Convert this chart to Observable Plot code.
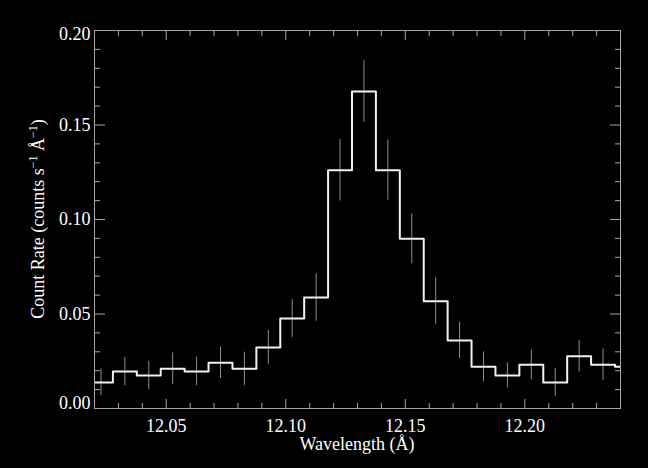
<!DOCTYPE html>
<html><head><meta charset="utf-8">
<script src="https://cdn.jsdelivr.net/npm/d3@7"></script>
<script src="https://cdn.jsdelivr.net/npm/@observablehq/plot@0.6"></script>
<style>
html,body{margin:0;padding:0;background:#000;}
</style></head><body><div id="chart"></div>
<script>
// Bin centres (Å), count rate and 1-sigma errors
const wavelength = [12.0227, 12.0327, 12.0427, 12.0527, 12.0627, 12.0727, 12.0827, 12.0927, 12.1027, 12.1127, 12.1227, 12.1327, 12.1427, 12.1527, 12.1627, 12.1727, 12.1827, 12.1927, 12.2027, 12.2127, 12.2227, 12.2327, 12.2427];
const rate = [0.0138, 0.0196, 0.0175, 0.0210, 0.0196, 0.0242, 0.0210, 0.0323, 0.0476, 0.0587, 0.1261, 0.1677, 0.1261, 0.0898, 0.0568, 0.0360, 0.0221, 0.0175, 0.0231, 0.0138, 0.0277, 0.0231, 0.0221];
const rateError = [0.0071, 0.0075, 0.0075, 0.0084, 0.0075, 0.0084, 0.0088, 0.0090, 0.0100, 0.0126, 0.0163, 0.0163, 0.0159, 0.0132, 0.0123, 0.0097, 0.0079, 0.0066, 0.0079, 0.0075, 0.0084, 0.0084, 0.0080];
const binWidth = 0.01;

const xMajorTicks = [12.05, 12.10, 12.15, 12.20];
const xMinorTicks = [12.03, 12.04, 12.06, 12.07, 12.08, 12.09, 12.11, 12.12, 12.13, 12.14, 12.16, 12.17, 12.18, 12.19, 12.21, 12.22, 12.23];
const yMajorTicks = [0.00, 0.05, 0.10, 0.15, 0.20];
const yMinorTicks = [0.01, 0.02, 0.03, 0.04, 0.06, 0.07, 0.08, 0.09, 0.11, 0.12, 0.13, 0.14, 0.16, 0.17, 0.18, 0.19];
const yMidLabels = [0.05, 0.10, 0.15];
const yBottomLabel = [0.00];
const yTopLabel = [0.20];

const xTitle = "Wavelength (Å)";

const bins = wavelength.map((w, i) => ({w, rate: rate[i], err: rateError[i]}));
const last = bins[bins.length - 1];
const steps = bins.map(d => ({x: d.w - binWidth / 2, y: d.rate}))
  .concat([{x: last.w + binWidth / 2, y: last.rate}]);

const gray = "#a6a6a6";
const font = "'Liberation Serif', 'Times New Roman', serif";
const fmt = d3.format(".2f");
const noText = () => "";

const plot = Plot.plot({
  width: 648, height: 468,
  marginLeft: 94, marginRight: 28, marginTop: 30, marginBottom: 60,
  style: {background: "#000", color: "#fff", fontFamily: font, fontSize: "18px"},
  x: {domain: [12.02, 12.24], label: null},
  y: {domain: [0, 0.2], label: null},
  marks: [
    Plot.ruleX(bins, {x: "w", y1: d => d.rate - d.err, y2: d => d.rate + d.err, stroke: "#8c8c8c", strokeWidth: 1, clip: true}),
    Plot.line(steps, {x: "x", y: "y", curve: "step-after", stroke: "#f2f2f2", strokeWidth: 2, clip: true}),
    // inward tick marks on all four sides
    Plot.axisX({ticks: xMajorTicks, anchor: "bottom", tickSize: -9, tickFormat: noText, stroke: gray, label: null}),
    Plot.axisX({ticks: xMinorTicks, anchor: "bottom", tickSize: -5, tickFormat: noText, stroke: gray, label: null}),
    Plot.axisX({ticks: xMajorTicks, anchor: "top", tickSize: -9, tickFormat: noText, stroke: gray, label: null}),
    Plot.axisX({ticks: xMinorTicks, anchor: "top", tickSize: -5, tickFormat: noText, stroke: gray, label: null}),
    Plot.axisY({ticks: yMajorTicks, anchor: "left", tickSize: -11, tickFormat: noText, stroke: gray, label: null}),
    Plot.axisY({ticks: yMinorTicks, anchor: "left", tickSize: -6, tickFormat: noText, stroke: gray, label: null}),
    Plot.axisY({ticks: yMajorTicks, anchor: "right", tickSize: -11, tickFormat: noText, stroke: gray, label: null}),
    Plot.axisY({ticks: yMinorTicks, anchor: "right", tickSize: -6, tickFormat: noText, stroke: gray, label: null}),
    // tick labels
    Plot.axisX({ticks: xMajorTicks, anchor: "bottom", tickSize: 0, tickPadding: 11, tickFormat: fmt, fill: "#fff", label: null}),
    Plot.axisY({ticks: yMidLabels, anchor: "left", tickSize: 0, tickPadding: 4, tickFormat: fmt, fill: "#fff", label: null}),
    Plot.axisY({ticks: yBottomLabel, anchor: "left", tickSize: 0, tickPadding: 4, dy: -5, tickFormat: fmt, fill: "#fff", label: null}),
    Plot.axisY({ticks: yTopLabel, anchor: "left", tickSize: 0, tickPadding: 4, dy: 4, tickFormat: fmt, fill: "#fff", label: null}),
    Plot.frame({stroke: gray, strokeWidth: 1})
  ]
});

document.getElementById("chart").appendChild(plot);

// axis titles (with superscripts on the y title)
const sx = plot.scale("x"), sy = plot.scale("y");
const cx = (sx.range[0] + sx.range[1]) / 2;
const cy = (sy.range[0] + sy.range[1]) / 2;
const svg = d3.select(plot);
svg.append("text")
  .attr("x", cx).attr("y", 450)
  .attr("text-anchor", "middle")
  .attr("fill", "#fff")
  .style("font-family", font).style("font-size", "18px")
  .text(xTitle);

const yt = svg.append("text")
  .attr("transform", `translate(44,${cy}) rotate(-90)`)
  .attr("text-anchor", "middle")
  .attr("fill", "#fff")
  .style("font-family", font).style("font-size", "18px");
yt.append("tspan").text("Count Rate (counts s");
yt.append("tspan").attr("dy", -7).style("font-size", "12px").text("\u22121");
yt.append("tspan").attr("dy", 7).text(" Å");
yt.append("tspan").attr("dy", -7).style("font-size", "12px").text("\u22121");
yt.append("tspan").attr("dy", 7).text(")");
</script>
</body></html>
